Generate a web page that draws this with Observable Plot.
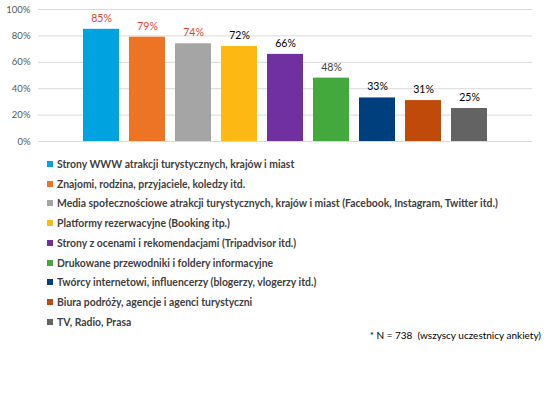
<!DOCTYPE html>
<html><head><meta charset="utf-8">
<script src="https://cdn.jsdelivr.net/npm/d3@7"></script>
<script src="https://cdn.jsdelivr.net/npm/@observablehq/plot@0.6"></script>
<style>
body{margin:0;background:#fff;font-family:Lato,"Open Sans",sans-serif;}
#legend{margin-left:47px;margin-top:4px;}
.row{display:flex;align-items:center;height:19.75px;font-size:10.4px;font-weight:bold;color:#404040;}
.sw{width:6px;height:6px;margin-right:4px;flex:none;}
#note{position:absolute;left:0;width:541px;top:329px;text-align:right;font-size:10px;color:#000;}
</style></head>
<body>
<div id="chart"></div>
<div id="legend"></div>
<div id="note">* N = 738&nbsp; (wszyscy uczestnicy ankiety)</div>
<script>
const categories = [
  "Strony WWW atrakcji turystycznych, krajów i miast",
  "Znajomi, rodzina, przyjaciele, koledzy itd.",
  "Media społecznościowe atrakcji turystycznych, krajów i miast (Facebook, Instagram, Twitter itd.)",
  "Platformy rezerwacyjne (Booking itp.)",
  "Strony z ocenami i rekomendacjami (Tripadvisor itd.)",
  "Drukowane przewodniki i foldery informacyjne",
  "Twórcy internetowi, influencerzy (blogerzy, vlogerzy itd.)",
  "Biura podróży, agencje i agenci turystyczni",
  "TV, Radio, Prasa"
];
const values = [85, 79, 74, 72, 66, 48, 33, 31, 25];
const colors = ["#00a3e0","#ec7424","#a5a5a5","#fdb813","#70309f","#43a93d","#003f7d","#c04a0a","#636363"];
const labelColors = ["#e0452a","#e0452a","#e0452a","#000","#000","#404040","#000","#000","#000"];
const labelWeights = ["600","600","600","bold","bold","normal","bold","bold","bold"];
const yTicks = [0, 20, 40, 60, 80, 100];

const data = categories.map((c, i) => ({c, v: values[i], col: colors[i], lc: labelColors[i], lw: labelWeights[i]}));

const plot = Plot.plot({
  width: 554, height: 150,
  marginLeft: 38, marginRight: 22, marginTop: 9, marginBottom: 9,
  style: {fontFamily: "Lato, 'Open Sans', sans-serif", background: "#fff"},
  x: {domain: categories, axis: null, paddingInner: 0.213, paddingOuter: 0.862},
  y: {domain: [0, 100], axis: null},
  marks: [
    Plot.ruleY(yTicks, {stroke: "#d9d9d9", strokeWidth: 1}),
    Plot.text(yTicks, {x: null, y: d => d, text: d => d + "%", frameAnchor: "left", dx: -8, textAnchor: "end", fill: "#595959", fontSize: 9.5}),
    Plot.barY(data, {x: "c", y: "v", fill: d => d.col}),
    Plot.text(data, {x: "c", y: "v", text: d => d.v + "%", dy: -11, fill: d => d.lc, fontWeight: d => d.lw, fontSize: 10.5})
  ]
});
document.getElementById("chart").appendChild(plot);

const leg = document.getElementById("legend");
categories.forEach((c, i) => {
  const r = document.createElement("div"); r.className = "row";
  const s = document.createElement("span"); s.className = "sw"; s.style.background = colors[i];
  const t = document.createElement("span"); t.textContent = c;
  r.appendChild(s); r.appendChild(t); leg.appendChild(r);
});
</script>
</body></html>
